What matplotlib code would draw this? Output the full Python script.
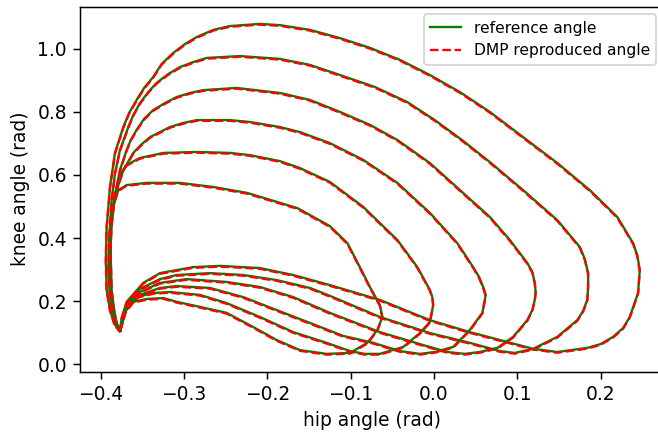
import matplotlib
matplotlib.use("Agg")
import matplotlib.pyplot as plt
from matplotlib.transforms import offset_copy

# hip / knee angle (rad) for six gait cycles
hip_1 = [-0.377, -0.371, -0.361, -0.345, -0.325, -0.309, -0.281, -0.249, -0.217, -0.189,
         -0.161, -0.129, -0.101, -0.080, -0.068, -0.062, -0.065, -0.077, -0.089, -0.104,
         -0.125, -0.164, -0.224, -0.265, -0.305, -0.345, -0.369, -0.379, -0.385, -0.388,
         -0.388, -0.387, -0.384, -0.381, -0.377]
knee_1 = [0.106, 0.166, 0.198, 0.207, 0.210, 0.198, 0.182, 0.163, 0.118, 0.077,
          0.045, 0.033, 0.036, 0.068, 0.109, 0.150, 0.188, 0.245, 0.308, 0.384,
          0.438, 0.495, 0.543, 0.562, 0.575, 0.575, 0.568, 0.552, 0.505, 0.426,
          0.331, 0.236, 0.172, 0.131, 0.106]

hip_2 = [-0.377, -0.370, -0.357, -0.337, -0.317, -0.281, -0.249, -0.209, -0.169, -0.129,
         -0.101, -0.083, -0.065, -0.037, -0.017, -0.005, -0.001, -0.002, -0.005, -0.020,
         -0.044, -0.085, -0.125, -0.161, -0.185, -0.221, -0.245, -0.285, -0.325, -0.353,
         -0.369, -0.377, -0.383, -0.387, -0.389, -0.388, -0.385, -0.381, -0.377]
knee_2 = [0.106, 0.172, 0.213, 0.226, 0.229, 0.220, 0.194, 0.150, 0.102, 0.068,
          0.042, 0.033, 0.033, 0.055, 0.099, 0.134, 0.188, 0.213, 0.236, 0.308,
          0.394, 0.499, 0.578, 0.622, 0.644, 0.663, 0.670, 0.673, 0.670, 0.654,
          0.632, 0.600, 0.537, 0.442, 0.331, 0.236, 0.172, 0.128, 0.106]

hip_3 = [-0.377, -0.369, -0.353, -0.329, -0.309, -0.269, -0.229, -0.189, -0.149, -0.109,
         -0.073, -0.041, -0.017, 0.001, 0.023, 0.043, 0.058, 0.061, 0.062, 0.059,
         0.054, 0.047, 0.028, -0.005, -0.044, -0.085, -0.125, -0.161, -0.185, -0.221,
         -0.245, -0.285, -0.301, -0.317, -0.341, -0.352, -0.361, -0.373, -0.381, -0.387,
         -0.390, -0.389, -0.387, -0.382, -0.377]
knee_3 = [0.106, 0.178, 0.220, 0.242, 0.248, 0.242, 0.213, 0.172, 0.131, 0.090,
          0.068, 0.042, 0.033, 0.039, 0.055, 0.109, 0.163, 0.204, 0.220, 0.245,
          0.277, 0.308, 0.384, 0.480, 0.575, 0.648, 0.701, 0.736, 0.752, 0.768,
          0.774, 0.774, 0.765, 0.752, 0.720, 0.695, 0.670, 0.616, 0.552, 0.473,
          0.362, 0.251, 0.178, 0.131, 0.106]

hip_4 = [-0.377, -0.369, -0.353, -0.329, -0.297, -0.249, -0.209, -0.169, -0.125, -0.065,
         -0.013, 0.016, 0.037, 0.055, 0.076, 0.095, 0.112, 0.118, 0.121, 0.122,
         0.121, 0.118, 0.112, 0.091, 0.067, 0.035, -0.005, -0.044, -0.077, -0.113,
         -0.149, -0.185, -0.237, -0.277, -0.293, -0.309, -0.323, -0.337, -0.348, -0.357,
         -0.364, -0.369, -0.377, -0.383, -0.389, -0.390, -0.389, -0.385, -0.381, -0.377]
knee_4 = [0.106, 0.185, 0.229, 0.258, 0.270, 0.261, 0.245, 0.213, 0.163, 0.102,
          0.061, 0.039, 0.033, 0.039, 0.052, 0.087, 0.140, 0.172, 0.204, 0.229,
          0.258, 0.293, 0.321, 0.394, 0.467, 0.543, 0.638, 0.711, 0.759, 0.800,
          0.838, 0.860, 0.876, 0.869, 0.860, 0.847, 0.828, 0.806, 0.778, 0.743,
          0.711, 0.679, 0.616, 0.537, 0.426, 0.315, 0.229, 0.166, 0.125, 0.106]

hip_5 = [-0.377, -0.369, -0.353, -0.329, -0.309, -0.269, -0.229, -0.189, -0.149, -0.125,
         -0.065, -0.005, 0.043, 0.079, 0.097, 0.119, 0.148, 0.172, 0.179, 0.184,
         0.185, 0.185, 0.181, 0.175, 0.148, 0.107, 0.067, 0.035, 0.001, -0.032,
         -0.071, -0.113, -0.149, -0.185, -0.233, -0.273, -0.289, -0.305, -0.319, -0.333,
         -0.343, -0.353, -0.361, -0.367, -0.377, -0.383, -0.387, -0.390, -0.391, -0.389,
         -0.385, -0.381, -0.377]
knee_5 = [0.106, 0.191, 0.239, 0.270, 0.283, 0.289, 0.283, 0.267, 0.242, 0.217,
          0.150, 0.099, 0.068, 0.042, 0.036, 0.049, 0.087, 0.140, 0.169, 0.204,
          0.245, 0.289, 0.334, 0.372, 0.457, 0.552, 0.641, 0.708, 0.774, 0.831,
          0.879, 0.917, 0.949, 0.968, 0.977, 0.971, 0.958, 0.942, 0.920, 0.892,
          0.863, 0.828, 0.790, 0.752, 0.679, 0.606, 0.521, 0.394, 0.299, 0.220,
          0.156, 0.118, 0.106]

hip_6 = [-0.377, -0.375, -0.369, -0.349, -0.329, -0.289, -0.257, -0.209, -0.169, -0.125,
         -0.065, -0.005, 0.043, 0.079, 0.119, 0.148, 0.184, 0.200, 0.215, 0.227,
         0.235, 0.245, 0.247, 0.244, 0.239, 0.220, 0.187, 0.148, 0.107, 0.067,
         0.031, -0.005, -0.041, -0.077, -0.113, -0.149, -0.185, -0.209, -0.245, -0.265,
         -0.285, -0.299, -0.313, -0.327, -0.337, -0.348, -0.357, -0.366, -0.373, -0.378,
         -0.383, -0.389, -0.393, -0.394, -0.393, -0.389, -0.384, -0.377]
knee_6 = [0.106, 0.147, 0.198, 0.258, 0.289, 0.308, 0.312, 0.305, 0.283, 0.251,
          0.204, 0.140, 0.102, 0.077, 0.049, 0.039, 0.052, 0.064, 0.087, 0.115,
          0.150, 0.226, 0.299, 0.346, 0.384, 0.467, 0.552, 0.638, 0.720, 0.800,
          0.863, 0.917, 0.965, 1.003, 1.034, 1.060, 1.075, 1.079, 1.072, 1.060,
          1.037, 1.015, 0.987, 0.952, 0.911, 0.876, 0.838, 0.797, 0.752, 0.711,
          0.670, 0.562, 0.435, 0.331, 0.236, 0.172, 0.131, 0.106]

cycles = [(hip_1, knee_1), (hip_2, knee_2), (hip_3, knee_3),
          (hip_4, knee_4), (hip_5, knee_5), (hip_6, knee_6)]

DPI = 134
fig = plt.figure(figsize=(658 / DPI, 432 / DPI), dpi=DPI)
ax = fig.add_axes([80 / 658, 60.3 / 432, 584 / 658, 365 / 432])

red_tr = offset_copy(ax.transData, fig=fig, x=0.0, y=-0.4, units='points')

for i, (h, k) in enumerate(cycles):
    ax.plot(h, k, color='g', lw=1.25, solid_joinstyle='round',
            label='reference angle' if i == 0 else None)
    ax.plot(h, k, color='r', ls='--', lw=1.25, dash_joinstyle='round',
            transform=red_tr,
            label='DMP reproduced angle' if i == 0 else None)

ax.set_xlim(-0.425, 0.2761)
ax.set_ylim(-0.0235, 1.1334)
ax.set_xticks([-0.4, -0.3, -0.2, -0.1, 0.0, 0.1, 0.2])
ax.set_yticks([0.0, 0.2, 0.4, 0.6, 0.8, 1.0])
ax.set_xlabel('hip angle (rad)')
ax.set_ylabel('knee angle (rad)')
ax.legend(loc='upper right', fontsize='small')

fig.savefig('out.png', dpi=DPI)
